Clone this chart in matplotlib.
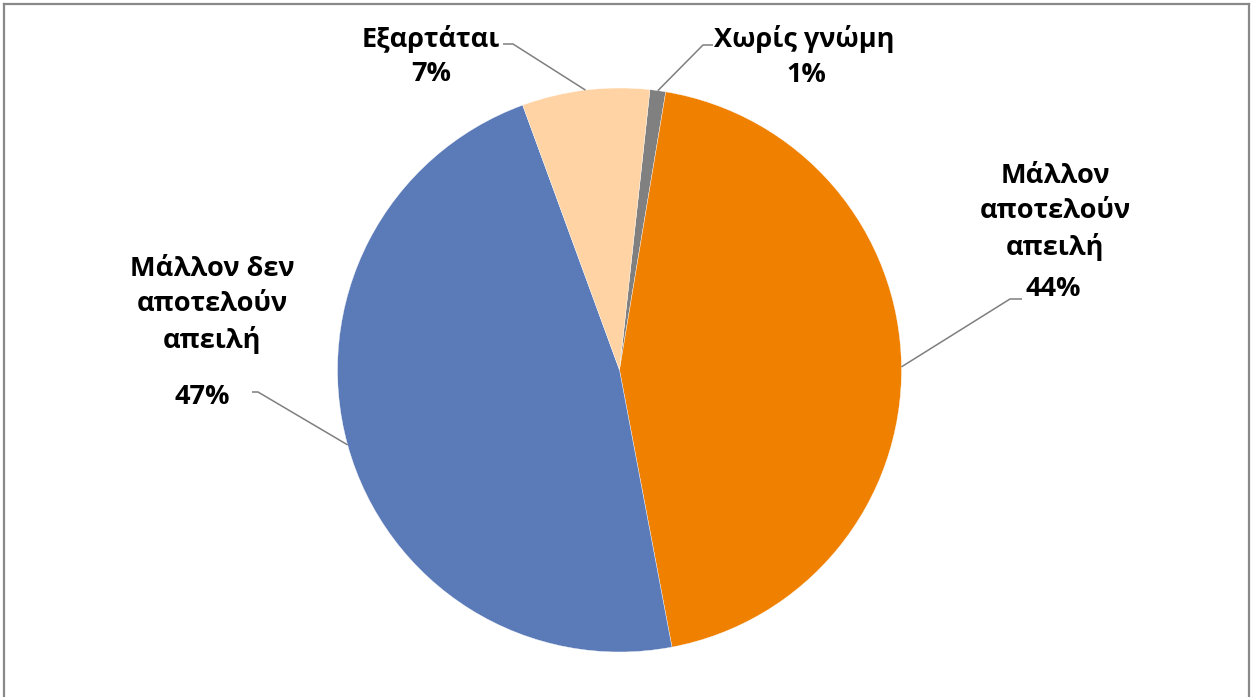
import numpy as np
import matplotlib
matplotlib.use("Agg")
import matplotlib.pyplot as plt

# data
labels = ["Χωρίς γνώμη", "Μάλλον\nαποτελούν\nαπειλή", "Μάλλον δεν\nαποτελούν\nαπειλή", "Εξαρτάται"]
values = [0.9, 44.4, 47.4, 7.3]
colors = ["#808080", "#F08000", "#5B7AB8", "#FFD3A3"]

W, H = 1253, 697
plt.rcParams['font.family'] = ['Open Sans', 'DejaVu Sans']

fig = plt.figure(figsize=(W / 100, H / 100), dpi=100)
ax = fig.add_axes([0, 0, 1, 1])

def Y(y):
    # pixel rows from the top -> data y
    return H - y

cx, cy, r = 619.5, Y(370), 282
wedges, _ = ax.pie(values, colors=colors, startangle=83.8, counterclock=False,
                   center=(cx, cy), radius=r,
                   wedgeprops=dict(edgecolor="white", linewidth=0.25))
ax.set_xlim(0, W)
ax.set_ylim(0, H)
ax.set_aspect("equal")
ax.axis("off")

fs = 19.5
line_col = "#7F7F7F"

# label layout: (name position, percent position, leader elbow, leader end)
layout = [
    ((804, 39), (806, 75), (703, 45), (713, 45)),
    ((1055, 212), (1053, 289), (1010, 299), (1022, 299)),
    ((212, 305), (202, 397), (258, 392), (252, 392)),
    ((431, 39), (431, 74), (513, 44), (503, 44)),
]

for w, lab, v, (npos, ppos, elbow, end) in zip(wedges, labels, values, layout):
    mid = np.deg2rad((w.theta1 + w.theta2) / 2)
    ex, ey = cx + r * np.cos(mid), cy + r * np.sin(mid)
    ax.plot([ex, elbow[0], end[0]], [ey, Y(elbow[1]), Y(end[1])],
            color=line_col, lw=1.1, solid_capstyle="butt")
    ax.text(npos[0], Y(npos[1]), lab, ha="center", va="center",
            fontsize=fs, fontweight="bold", linespacing=1.42, color="black")
    ax.text(ppos[0], Y(ppos[1]), f"{round(v)}%", ha="center", va="center",
            fontsize=fs, fontweight="bold", color="black")

# chart border (left, top, right)
bc = "#898989"
ax.plot([3.5, 3.5], [Y(700), Y(4)], color=bc, lw=1.6)
ax.plot([3.5, 1248.5], [Y(4), Y(4)], color=bc, lw=1.6)
ax.plot([1248.5, 1248.5], [Y(4), Y(700)], color=bc, lw=1.6)

fig.savefig("out.png", dpi=100)
